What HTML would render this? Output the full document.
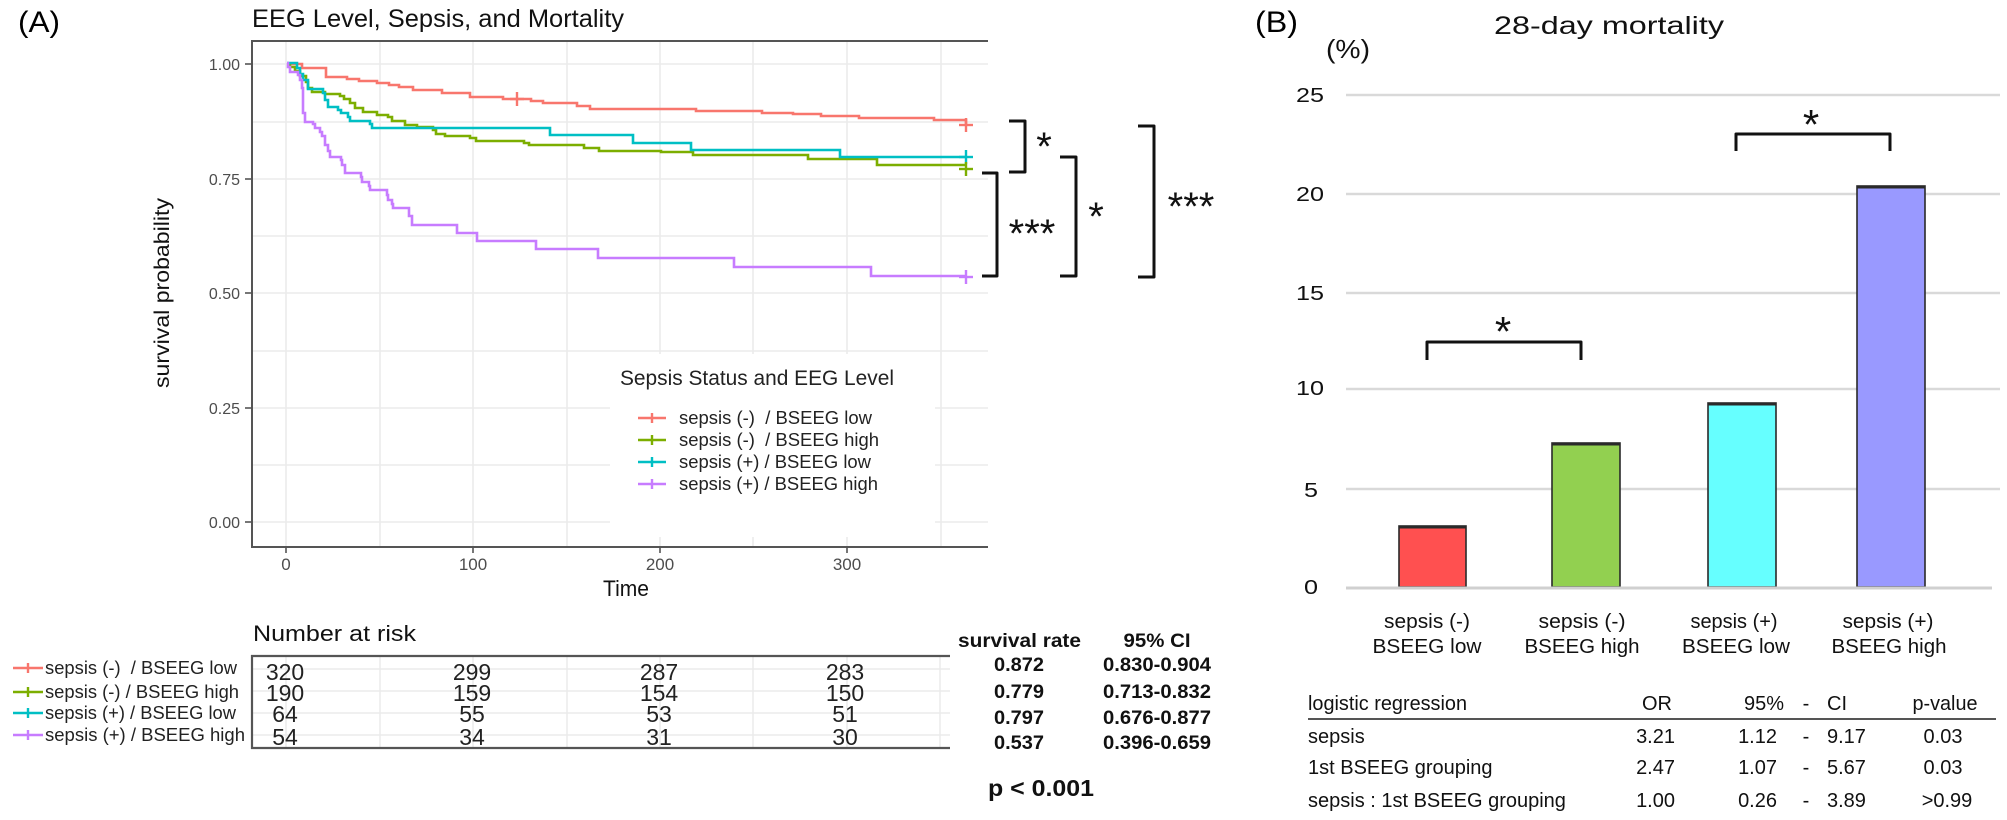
<!DOCTYPE html>
<html><head><meta charset="utf-8"><style>
html,body{margin:0;padding:0;background:#fff;}
svg{display:block;}
text{font-family:"Liberation Sans",Arial,sans-serif;white-space:pre;}
</style></head><body>
<svg width="2007" height="820" viewBox="0 0 2007 820" xmlns="http://www.w3.org/2000/svg">
<rect width="2007" height="820" fill="#fff"/>

<!-- (A) panel -->
<text x="18" y="32" font-size="30" textLength="42" lengthAdjust="spacingAndGlyphs">(A)</text>
<text x="252" y="27" font-size="25" textLength="372" lengthAdjust="spacingAndGlyphs" fill="#111">EEG Level, Sepsis, and Mortality</text>

<!-- grid -->
<g stroke="#EBEBEB" stroke-width="1.6">
<line x1="286" y1="41" x2="286" y2="547"/><line x1="380" y1="41" x2="380" y2="547"/>
<line x1="473" y1="41" x2="473" y2="547"/><line x1="567" y1="41" x2="567" y2="547"/>
<line x1="660" y1="41" x2="660" y2="547"/><line x1="753" y1="41" x2="753" y2="547"/>
<line x1="847" y1="41" x2="847" y2="547"/><line x1="941" y1="41" x2="941" y2="547"/>
<line x1="252" y1="64" x2="988" y2="64"/><line x1="252" y1="122" x2="988" y2="122"/>
<line x1="252" y1="179" x2="988" y2="179"/><line x1="252" y1="236" x2="988" y2="236"/>
<line x1="252" y1="293" x2="988" y2="293"/><line x1="252" y1="351" x2="988" y2="351"/>
<line x1="252" y1="408" x2="988" y2="408"/><line x1="252" y1="465" x2="988" y2="465"/>
<line x1="252" y1="522" x2="988" y2="522"/>
</g>
<!-- legend box -->
<rect x="610" y="354" width="325" height="183" fill="#fff"/>

<!-- axes -->
<g stroke="#555" stroke-width="2" fill="none">
<line x1="251" y1="41" x2="988" y2="41"/>
<line x1="252" y1="40" x2="252" y2="548"/>
<line x1="251" y1="547" x2="988" y2="547"/>
</g>
<g stroke="#555" stroke-width="1.6">
<line x1="245" y1="64" x2="252" y2="64"/><line x1="245" y1="179" x2="252" y2="179"/>
<line x1="245" y1="293" x2="252" y2="293"/><line x1="245" y1="408" x2="252" y2="408"/>
<line x1="245" y1="522" x2="252" y2="522"/>
<line x1="286" y1="547" x2="286" y2="553"/><line x1="473" y1="547" x2="473" y2="553"/>
<line x1="660" y1="547" x2="660" y2="553"/><line x1="847" y1="547" x2="847" y2="553"/>
</g>
<g font-size="16" fill="#4D4D4D" text-anchor="end">
<text x="240" y="70">1.00</text><text x="240" y="185">0.75</text>
<text x="240" y="299">0.50</text><text x="240" y="414">0.25</text>
<text x="240" y="528">0.00</text>
</g>
<g font-size="17" fill="#4D4D4D" text-anchor="middle">
<text x="286" y="570">0</text><text x="473" y="570">100</text>
<text x="660" y="570">200</text><text x="847" y="570">300</text>
</g>
<text x="626" y="596" font-size="22" text-anchor="middle" textLength="46" lengthAdjust="spacingAndGlyphs" fill="#111">Time</text>
<text transform="translate(169,293) rotate(-90)" font-size="21" text-anchor="middle" textLength="190" lengthAdjust="spacingAndGlyphs" fill="#111">survival probability</text>

<!-- curves -->
<g fill="none" stroke-width="2.6" stroke-linejoin="miter">
<path stroke="#F8766D" d="M287,64 H302 V68 H326 V77 H347 V79 H359 V81 H377 V83 H389 V85 H399 V87 H413 V90 H442 V93 H470 V97 H503 V99 H531 V101 H543 V103 H577 V106 H590 V109 H696 V111 H762 V113 H793 V114 H821 V116 H859 V118 H934 V120 H966 V124"/>
<path stroke="#7CAE00" d="M287,64 H290 V67 H295 V71 H300 V76 H306 V82 H308 V88 H312 V92 H325 V94 H340 V96 H344 V99 H350 V103 H355 V108 H363 V112 H377 V115 H388 V117 H392 V121 H405 V125 H417 V127 H433 V130 H436 V134 H445 V136 H470 V138 H476 V141 H524 V143 H529 V145 H584 V148 H599 V151 H661 V152 H693 V155 H808 V159 H877 V165 H966"/>
<path stroke="#00BFC4" d="M287,63 H297 V68 H300 V74 H303 V80 H308 V89 H323 V93 H325 V100 H328 V107 H338 V110 H341 V113 H348 V117 H350 V121 H370 V124 H372 V128 H550 V135 H633 V143 H691 V150 H840 V157 H966"/>
<path stroke="#C77CFF" d="M287,63 H288 V67 H290 V72 H298 V75 H300 V80 H302 V88 H303 V113 H305 V122 H313 V124 H315 V128 H320 V132 H322 V136 H325 V145 H328 V151 H330 V157 H341 V160 H342 V165 H345 V173 H361 V177 H362 V182 H369 V186 H370 V190 H387 V195 H388 V200 H392 V204 H393 V208 H409 V216 H412 V225 H457 V233 H477 V241 H536 V249 H598 V258 H734 V267 H871 V276 H966"/>
</g>
<!-- censor marks -->
<g stroke-width="2.4">
<g stroke="#F8766D"><line x1="510" y1="99" x2="524" y2="99"/><line x1="517" y1="92" x2="517" y2="106"/>
<line x1="959" y1="125" x2="973" y2="125"/><line x1="966" y1="118" x2="966" y2="132"/></g>
<g stroke="#00BFC4"><line x1="959" y1="157" x2="973" y2="157"/><line x1="966" y1="150" x2="966" y2="164"/></g>
<g stroke="#7CAE00"><line x1="959" y1="169" x2="973" y2="169"/><line x1="966" y1="162" x2="966" y2="176"/></g>
<g stroke="#C77CFF"><line x1="959" y1="277" x2="973" y2="277"/><line x1="966" y1="270" x2="966" y2="284"/></g>
</g>

<!-- legend -->
<text x="620" y="385" font-size="21" textLength="274" lengthAdjust="spacingAndGlyphs" fill="#222">Sepsis Status and EEG Level</text>
<g stroke-width="2.4">
<g stroke="#F8766D"><line x1="638" y1="418" x2="666" y2="418"/><line x1="652" y1="413" x2="652" y2="423"/></g>
<g stroke="#7CAE00"><line x1="638" y1="440" x2="666" y2="440"/><line x1="652" y1="435" x2="652" y2="445"/></g>
<g stroke="#00BFC4"><line x1="638" y1="462" x2="666" y2="462"/><line x1="652" y1="457" x2="652" y2="467"/></g>
<g stroke="#C77CFF"><line x1="638" y1="484" x2="666" y2="484"/><line x1="652" y1="479" x2="652" y2="489"/></g>
</g>
<g font-size="18.5" fill="#222" lengthAdjust="spacingAndGlyphs">
<text x="679" y="424" textLength="193" lengthAdjust="spacingAndGlyphs">sepsis (-)  / BSEEG low</text>
<text x="679" y="446" textLength="200" lengthAdjust="spacingAndGlyphs">sepsis (-)  / BSEEG high</text>
<text x="679" y="468" textLength="192" lengthAdjust="spacingAndGlyphs">sepsis (+) / BSEEG low</text>
<text x="679" y="490" textLength="199" lengthAdjust="spacingAndGlyphs">sepsis (+) / BSEEG high</text>
</g>

<!-- brackets A -->
<g fill="none" stroke="#111" stroke-width="3" stroke-linejoin="round">
<path d="M1009,121 H1025 V172 H1009"/>
<path d="M982,173 H997 V276 H982"/>
<path d="M1060,157 H1076 V276 H1060"/>
<path d="M1138,126 H1154 V277 H1138"/>
</g>
<g font-size="40" fill="#111" text-anchor="middle">
<text x="1044" y="160">*</text>
<text x="1032" y="247">***</text>
<text x="1096" y="230">*</text>
<text x="1191" y="220">***</text>
</g>

<!-- Number at risk -->
<text x="253" y="641" font-size="22" textLength="163" lengthAdjust="spacingAndGlyphs" fill="#111">Number at risk</text>
<g stroke="#EBEBEB" stroke-width="1.5">
<line x1="252" y1="669" x2="950" y2="669"/><line x1="252" y1="691" x2="950" y2="691"/>
<line x1="252" y1="713" x2="950" y2="713"/><line x1="252" y1="735" x2="950" y2="735"/>
<line x1="286" y1="656" x2="286" y2="748"/><line x1="380" y1="656" x2="380" y2="748"/>
<line x1="473" y1="656" x2="473" y2="748"/><line x1="567" y1="656" x2="567" y2="748"/>
<line x1="660" y1="656" x2="660" y2="748"/><line x1="753" y1="656" x2="753" y2="748"/>
<line x1="847" y1="656" x2="847" y2="748"/><line x1="940" y1="656" x2="940" y2="748"/>
</g>
<g stroke="#555" stroke-width="2.2">
<line x1="251" y1="656" x2="950" y2="656"/>
<line x1="251" y1="748" x2="950" y2="748"/>
<line x1="252" y1="655" x2="252" y2="749"/>
</g>
<g font-size="23" fill="#222" text-anchor="middle">
<text x="285" y="680">320</text><text x="472" y="680">299</text><text x="659" y="680">287</text><text x="845" y="680">283</text>
<text x="285" y="701">190</text><text x="472" y="701">159</text><text x="659" y="701">154</text><text x="845" y="701">150</text>
<text x="285" y="722">64</text><text x="472" y="722">55</text><text x="659" y="722">53</text><text x="845" y="722">51</text>
<text x="285" y="745">54</text><text x="472" y="745">34</text><text x="659" y="745">31</text><text x="845" y="745">30</text>
</g>
<g stroke-width="2.4">
<g stroke="#F8766D"><line x1="13" y1="668" x2="43" y2="668"/><line x1="28" y1="663" x2="28" y2="673"/></g>
<g stroke="#7CAE00"><line x1="13" y1="692" x2="43" y2="692"/><line x1="28" y1="687" x2="28" y2="697"/></g>
<g stroke="#00BFC4"><line x1="13" y1="713" x2="43" y2="713"/><line x1="28" y1="708" x2="28" y2="718"/></g>
<g stroke="#C77CFF"><line x1="13" y1="735" x2="43" y2="735"/><line x1="28" y1="730" x2="28" y2="740"/></g>
</g>
<g font-size="18.5" fill="#222">
<text x="45" y="674" textLength="192" lengthAdjust="spacingAndGlyphs">sepsis (-)  / BSEEG low</text>
<text x="45" y="698" textLength="194" lengthAdjust="spacingAndGlyphs">sepsis (-) / BSEEG high</text>
<text x="45" y="719" textLength="191" lengthAdjust="spacingAndGlyphs">sepsis (+) / BSEEG low</text>
<text x="45" y="741" textLength="200" lengthAdjust="spacingAndGlyphs">sepsis (+) / BSEEG high</text>
</g>

<!-- survival rate table -->
<g font-size="19" font-weight="bold" fill="#111">
<text x="958" y="647" textLength="123" lengthAdjust="spacingAndGlyphs">survival rate</text>
<text x="1157" y="647" text-anchor="middle" textLength="67" lengthAdjust="spacingAndGlyphs">95% CI</text>
<g text-anchor="middle">
<text x="1019" y="671" textLength="50" lengthAdjust="spacingAndGlyphs">0.872</text>
<text x="1019" y="698" textLength="50" lengthAdjust="spacingAndGlyphs">0.779</text>
<text x="1019" y="724" textLength="50" lengthAdjust="spacingAndGlyphs">0.797</text>
<text x="1019" y="749" textLength="50" lengthAdjust="spacingAndGlyphs">0.537</text>
<text x="1157" y="671" textLength="108" lengthAdjust="spacingAndGlyphs">0.830-0.904</text>
<text x="1157" y="698" textLength="108" lengthAdjust="spacingAndGlyphs">0.713-0.832</text>
<text x="1157" y="724" textLength="108" lengthAdjust="spacingAndGlyphs">0.676-0.877</text>
<text x="1157" y="749" textLength="108" lengthAdjust="spacingAndGlyphs">0.396-0.659</text>
</g>
</g>
<text x="988" y="796" font-size="23" font-weight="bold" fill="#111" textLength="106" lengthAdjust="spacingAndGlyphs">p &lt; 0.001</text>

<!-- (B) panel -->
<text x="1255" y="32" font-size="30" textLength="43" lengthAdjust="spacingAndGlyphs">(B)</text>
<text x="1494" y="34" font-size="25" textLength="230" lengthAdjust="spacingAndGlyphs" fill="#111">28-day mortality</text>
<text x="1326" y="58" font-size="26" textLength="44" lengthAdjust="spacingAndGlyphs" fill="#111">(%)</text>

<g stroke="#D9D9D9" stroke-width="2.5">
<line x1="1346" y1="95" x2="2000" y2="95"/>
<line x1="1346" y1="194" x2="2000" y2="194"/>
<line x1="1346" y1="293" x2="2000" y2="293"/>
<line x1="1346" y1="389" x2="2000" y2="389"/>
<line x1="1346" y1="489" x2="2000" y2="489"/>
</g>
<g font-size="20" fill="#111" text-anchor="middle">
<text x="1310" y="102" textLength="28" lengthAdjust="spacingAndGlyphs">25</text>
<text x="1310" y="201" textLength="28" lengthAdjust="spacingAndGlyphs">20</text>
<text x="1310" y="300" textLength="28" lengthAdjust="spacingAndGlyphs">15</text>
<text x="1310" y="395" textLength="28" lengthAdjust="spacingAndGlyphs">10</text>
<text x="1311" y="497" textLength="14" lengthAdjust="spacingAndGlyphs">5</text>
<text x="1311" y="594" textLength="14" lengthAdjust="spacingAndGlyphs">0</text>
</g>

<!-- bars -->
<g stroke="#2a2a2a" stroke-width="1.6">
<rect x="1399" y="526" width="67" height="61" fill="#FF5050"/>
<rect x="1552" y="443" width="68" height="144" fill="#92D050"/>
<rect x="1708" y="403" width="68" height="184" fill="#66FFFF"/>
<rect x="1857" y="186" width="68" height="401" fill="#9999FF"/>
</g>
<g stroke="#2a2a2a" stroke-width="3">
<line x1="1399" y1="527" x2="1466" y2="527"/>
<line x1="1552" y1="444" x2="1620" y2="444"/>
<line x1="1708" y1="404" x2="1776" y2="404"/>
<line x1="1857" y1="187" x2="1925" y2="187"/>
</g>
<line x1="1346" y1="588" x2="1992" y2="588" stroke="#D0D0D0" stroke-width="3"/>

<!-- brackets B -->
<g fill="none" stroke="#111" stroke-width="3" stroke-linejoin="round">
<path d="M1736,151 V134 H1890 V151"/>
<path d="M1427,360 V342 H1581 V360"/>
</g>
<g font-size="42" fill="#111" text-anchor="middle">
<text x="1811" y="139">*</text>
<text x="1503" y="346">*</text>
</g>

<!-- category labels -->
<g font-size="20.5" fill="#111" text-anchor="middle">
<text x="1427" y="628" textLength="86" lengthAdjust="spacingAndGlyphs">sepsis (-)</text>
<text x="1427" y="653" textLength="109" lengthAdjust="spacingAndGlyphs">BSEEG low</text>
<text x="1582" y="628" textLength="87" lengthAdjust="spacingAndGlyphs">sepsis (-)</text>
<text x="1582" y="653" textLength="115" lengthAdjust="spacingAndGlyphs">BSEEG high</text>
<text x="1734" y="628" textLength="87" lengthAdjust="spacingAndGlyphs">sepsis (+)</text>
<text x="1736" y="653" textLength="108" lengthAdjust="spacingAndGlyphs">BSEEG low</text>
<text x="1888" y="628" textLength="91" lengthAdjust="spacingAndGlyphs">sepsis (+)</text>
<text x="1889" y="653" textLength="115" lengthAdjust="spacingAndGlyphs">BSEEG high</text>
</g>

<!-- logistic regression table -->
<line x1="1308" y1="719" x2="1996" y2="719" stroke="#555" stroke-width="2"/>
<g font-size="20" fill="#111">
<text x="1308" y="710" textLength="159" lengthAdjust="spacingAndGlyphs">logistic regression</text>
<text x="1657" y="710" text-anchor="middle">OR</text>
<text x="1784" y="710" text-anchor="end">95%</text>
<text x="1806" y="710" text-anchor="middle">-</text>
<text x="1827" y="710">CI</text>
<text x="1945" y="710" text-anchor="middle" textLength="65" lengthAdjust="spacingAndGlyphs">p-value</text>

<text x="1308" y="743">sepsis</text>
<text x="1675" y="743" text-anchor="end">3.21</text>
<text x="1777" y="743" text-anchor="end">1.12</text>
<text x="1806" y="743" text-anchor="middle">-</text>
<text x="1827" y="743">9.17</text>
<text x="1943" y="743" text-anchor="middle">0.03</text>

<text x="1308" y="774">1st BSEEG grouping</text>
<text x="1675" y="774" text-anchor="end">2.47</text>
<text x="1777" y="774" text-anchor="end">1.07</text>
<text x="1806" y="774" text-anchor="middle">-</text>
<text x="1827" y="774">5.67</text>
<text x="1943" y="774" text-anchor="middle">0.03</text>

<text x="1308" y="807">sepsis : 1st BSEEG grouping</text>
<text x="1675" y="807" text-anchor="end">1.00</text>
<text x="1777" y="807" text-anchor="end">0.26</text>
<text x="1806" y="807" text-anchor="middle">-</text>
<text x="1827" y="807">3.89</text>
<text x="1947" y="807" text-anchor="middle">&gt;0.99</text>
</g>
</svg>
</body></html>
